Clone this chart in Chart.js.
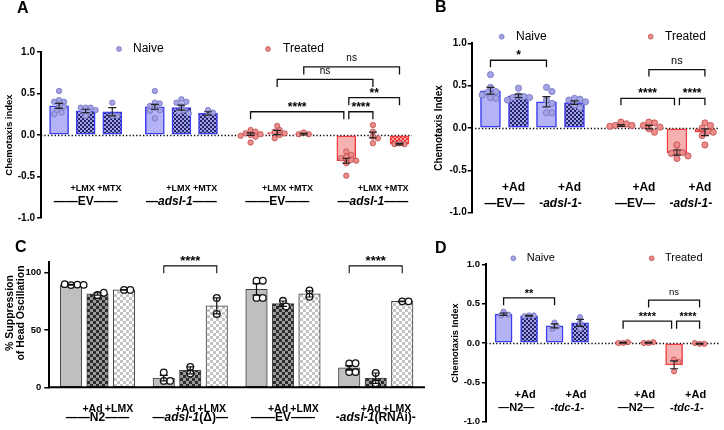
<!DOCTYPE html>
<html><head><meta charset="utf-8">
<script src="https://cdn.jsdelivr.net/npm/chart.js@4.4.1/dist/chart.umd.min.js"></script>
<style>
html,body{margin:0;padding:0;background:#fff;}
#wrap{position:relative;width:724px;height:430px;overflow:hidden;background:#fff;}
canvas{position:absolute;left:0;top:0;}
</style></head><body>
<div id="wrap">
<canvas id="cA" width="724" height="430"></canvas>
<canvas id="cB" width="724" height="430"></canvas>
<canvas id="cC" width="724" height="430"></canvas>
<canvas id="cD" width="724" height="430"></canvas>
</div>
<script>
// ================= DATA =================
// ---- Panel A ----
const aCond   = ['Naive','Naive','Naive','Naive','Naive','Naive','Treated','Treated','Treated','Treated','Treated','Treated'];
const aStrain = ['EV','EV','EV','adsl-1','adsl-1','adsl-1','EV','EV','EV','adsl-1','adsl-1','adsl-1'];
const aTreat  = ['','+LMX','+MTX','','+LMX','+MTX','','+LMX','+MTX','','+LMX','+MTX'];
const aMeans  = [0.35,0.29,0.28,0.34,0.33,0.26,0.01,0.03,0.01,-0.31,0.00,-0.11];
const aSem    = [0.03,0.02,0.05,0.03,0.03,0.02,0.015,0.025,0.01,0.03,0.035,0.01];
const aPoints = [
  [0.53,0.42,0.40,0.40,0.35,0.34,0.30,0.27,0.25],
  [0.33,0.33,0.33,0.30,0.28,0.28,0.23],
  [0.39,0.23,0.23],
  [0.53,0.39,0.38,0.35,0.33,0.30,0.29,0.20],
  [0.43,0.40,0.39,0.35,0.30,0.28,0.26],
  [0.30,0.27,0.24],
  [0.06,0.04,0.02,0.01,0.00,-0.01,-0.02,-0.09],
  [0.11,0.06,0.04,0.02,0.00,-0.04],
  [0.03,0.01,0.01],
  [-0.20,-0.24,-0.26,-0.28,-0.30,-0.31,-0.34,-0.49],
  [0.12,0.04,-0.02,-0.04,-0.10],
  [-0.10,-0.11,-0.11]
];
const aGroupLabels = ['——EV——','—_adsl-1_——','——EV——','—_adsl-1_——'];
const aSig   = [[6,9,0.28,'****'],[9,10,0.28,'****'],[9,11,0.45,'**'],[7,10,0.67,'ns'],[8,11,0.82,'ns']];
const aTicks = [-1,-0.5,0,0.5,1];

// ---- Panel B ----
const bCond   = ['Naive','Naive','Naive','Naive','Treated','Treated','Treated','Treated'];
const bStrain = ['EV','EV','adsl-1','adsl-1','EV','EV','adsl-1','adsl-1'];
const bTreat  = ['','+Ad','','+Ad','','+Ad','','+Ad'];
const bMeans  = [0.44,0.38,0.31,0.30,0.03,0.01,-0.29,-0.05];
const bSem    = [0.04,0.02,0.06,0.02,0.01,0.02,0.03,0.04];
const bPoints = [
  [0.63,0.48,0.43,0.42,0.39,0.36,0.35],
  [0.47,0.38,0.37,0.36,0.36,0.33],
  [0.48,0.43,0.33,0.29,0.18,0.18],
  [0.35,0.34,0.33,0.31,0.27,0.24],
  [0.07,0.05,0.03,0.03,0.02],
  [0.07,0.06,0.03,0.01,-0.01,-0.05],
  [-0.20,-0.28,-0.29,-0.30,-0.33,-0.36],
  [0.06,0.03,0.00,-0.04,-0.05,-0.09,-0.20]
];
const bGroupLabels = ['—EV—','-_adsl-1_-','—EV—','-_adsl-1_-'];
const bSig   = [[0,2,0.80,'*'],[4,6,0.35,'****'],[6,7,0.35,'****'],[5,7,0.69,'ns']];
const bTicks = [-1,-0.5,0,0.5,1];

// ---- Panel C ----
const cStrain = ['N2','N2','N2','adsl-1(Δ)','adsl-1(Δ)','adsl-1(Δ)','EV','EV','EV','adsl-1(RNAi)','adsl-1(RNAi)','adsl-1(RNAi)'];
const cTreat  = ['','+Ad','+LMX','','+Ad','+LMX','','+Ad','+LMX','','+Ad','+LMX'];
const cMeans  = [89.5,81.5,85,8,14.8,71,85.5,73,81.5,17,8,75];
const cSem    = [0.4,1,0.3,2.4,3,7,5,2.3,2.7,2,4.5,0.3];
const cPoints = [
  [89.2,89.6,90,89.4],[80.5,82.5],[85,85],
  [13,5.6,5.6],[17.8,12],[78,64],
  [93,93,78,78],[75.5,70.5],[84.5,79],
  [20.8,21,13.3,13.3],[12.5,3.5],[75,75]
];
const cGroupLabels = ['——N2——','—_adsl-1_(Δ)—','——EV——','-_adsl-1_(RNAi)-'];
const cSig   = [[3,5,106,'****'],[9,11,106,'****']];
const cTicks = [0,50,100];
const cTitle = ['% Suppression','of Head Oscillation'];

// ---- Panel D ----
const dCond   = ['Naive','Naive','Naive','Naive','Treated','Treated','Treated','Treated'];
const dStrain = ['N2','N2','tdc-1','tdc-1','N2','N2','tdc-1','tdc-1'];
const dTreat  = ['','+Ad','','+Ad','','+Ad','','+Ad'];
const dMeans  = [0.366,0.345,0.217,0.255,0.003,0.003,-0.277,-0.01];
const dSem    = [0.015,0.005,0.025,0.045,0.005,0.005,0.05,0.005];
const dPoints = [
  [0.40,0.36,0.35],[0.35,0.35,0.34],[0.26,0.21,0.18],[0.33,0.26,0.18],
  [0.00,0.01,0.00],[0.00,0.01,0.00],[-0.21,-0.24,-0.36],[-0.01,-0.01,0.00]
];
const dGroupLabels = ['—N2—','-_tdc-1_-','—N2—','-_tdc-1_-'];
const dSig   = [[0,2,0.574,'**'],[4,6,0.277,'****'],[6,7,0.277,'****'],[5,7,0.545,'ns']];
const dTicks = [-1,-0.5,0,0.5,1];

const legendNames = ['Naive','Treated'];

// ================= STYLE / RENDER =================
const FONT = "'Liberation Sans', Arial, Helvetica, sans-serif";
const COL = {
  naiveFill:'#b3b3f6', naiveBorder:'#3d3df2', naiveChk:['#23236b','#a3a3e3'],
  treatFill:'#f7b1b1', treatBorder:'#ec4040', treatChk:['#ee3434','#f7a3a3'],
  naivePt:'#a3a3e6', naivePtS:'#7272c2', treatPt:'#ee8c8c', treatPtS:'#bb4a4a'
};

function checker(ctx, c1, c2, s) {
  const cv = document.createElement('canvas'); cv.width = cv.height = 2*s;
  const g = cv.getContext('2d');
  g.fillStyle = c2; g.fillRect(0,0,2*s,2*s);
  g.fillStyle = c1; g.fillRect(0,0,s,s); g.fillRect(s,s,s,s);
  return ctx.createPattern(cv,'repeat');
}

function drawRuns(ctx, str, cx, cy, size) {
  const parts = str.split('_');
  const fonts = parts.map((p,k) => (k%2 ? 'italic ' : '') + 'bold ' + size + 'px ' + FONT);
  let w = 0;
  const ws = parts.map((p,k) => { ctx.font = fonts[k]; const m = ctx.measureText(p).width; w += m; return m; });
  let xx = cx - w/2;
  ctx.textAlign = 'left'; ctx.textBaseline = 'middle'; ctx.fillStyle = '#000';
  parts.forEach((p,k) => { ctx.font = fonts[k]; ctx.fillText(p, xx, cy); xx += ws[k]; });
}

function makeDeco(P, pos, runs) {
  return {
    id: 'deco' + P.id,
    beforeDatasetsDraw(chart) {
      const {ctx, chartArea: ca, scales: {y}} = chart;
      if (!P.dottedZero) return;
      const y0 = Math.round(y.getPixelForValue(0)) + 0.5;
      ctx.save();
      ctx.strokeStyle = '#000'; ctx.lineWidth = 1.3; ctx.setLineDash([1.3, 2.1]);
      ctx.beginPath(); ctx.moveTo(ca.left, y0); ctx.lineTo(ca.right, y0); ctx.stroke();
      ctx.restore();
    },
    afterDatasetsDraw(chart) {
      const {ctx, chartArea: ca, scales: {x, y}} = chart;
      const X = i => x.getPixelForValue(pos[i]);
      ctx.save();
      if (P.solidBase) {
        const y0 = y.getPixelForValue(0);
        ctx.strokeStyle = '#000'; ctx.lineWidth = 2;
        ctx.beginPath(); ctx.moveTo(ca.left - 1, y0); ctx.lineTo(ca.right, y0); ctx.stroke();
      }
      // error bars (mean ± SEM)
      ctx.strokeStyle = P.errColor; ctx.lineWidth = 1.2;
      P.means.forEach((m,i) => {
        const px = X(i), t = y.getPixelForValue(m + P.sem[i]), b = y.getPixelForValue(m - P.sem[i]);
        ctx.beginPath();
        ctx.moveTo(px, t); ctx.lineTo(px, b);
        ctx.moveTo(px - P.cap, t); ctx.lineTo(px + P.cap, t);
        ctx.moveTo(px - P.cap, b); ctx.lineTo(px + P.cap, b);
        ctx.stroke();
      });
      // significance brackets
      P.sig.forEach(cur => {
        const [a,b,lvl,txt] = cur;
        let xa = X(a), xb = X(b);
        if (P.sig.some(s => s !== cur && s[1] === a)) xa += 2.5;
        if (P.sig.some(s => s !== cur && s[0] === b)) xb -= 2.5;
        const yy = y.getPixelForValue(lvl);
        ctx.strokeStyle = '#111'; ctx.lineWidth = P.sigLW;
        ctx.beginPath(); ctx.moveTo(xa, yy + P.drop); ctx.lineTo(xa, yy); ctx.lineTo(xb, yy); ctx.lineTo(xb, yy + P.drop); ctx.stroke();
        ctx.fillStyle = '#000'; ctx.textAlign = 'center'; ctx.textBaseline = 'alphabetic';
        if (txt === 'ns') { ctx.font = P.nsSize + 'px ' + FONT; ctx.fillText(txt, (xa+xb)/2, yy - 5.5); }
        else { ctx.font = 'bold ' + P.starSize + 'px ' + FONT; ctx.fillText(txt, (xa+xb)/2, yy + P.starDy); }
      });
      // treatment labels under bars
      P.treat.forEach((t,i) => { if (t) drawRuns(ctx, t, X(i) + P.treatNudge, y.getPixelForValue(P.treatY), P.treatSize); });
      // group labels
      runs.forEach((r,k) => drawRuns(ctx, P.groupLabels[k], (X(r[0]) + X(r[1]))/2, y.getPixelForValue(P.groupY), P.groupSize));
      // legend
      if (P.legend) P.legend.forEach((L,k) => {
        ctx.beginPath(); ctx.arc(L.dot[0], L.dot[1], 2.4, 0, Math.PI*2);
        ctx.fillStyle = k ? COL.treatPt : COL.naivePt; ctx.fill();
        ctx.strokeStyle = k ? COL.treatPtS : COL.naivePtS; ctx.lineWidth = 0.8; ctx.stroke();
        ctx.fillStyle = '#000'; ctx.font = P.legendSize + 'px ' + FONT; ctx.textAlign = 'left'; ctx.textBaseline = 'middle';
        ctx.fillText(legendNames[k], L.tx, L.dot[1]);
      });
      // custom multi-line axis title
      if (P.customTitle) {
        const T = P.customTitle;
        ctx.save(); ctx.translate(T.cx, T.cy); ctx.rotate(-Math.PI/2);
        ctx.fillStyle = '#000'; ctx.font = 'bold ' + T.size + 'px ' + FONT; ctx.textAlign = 'center'; ctx.textBaseline = 'middle';
        T.lines.forEach((ln,k) => ctx.fillText(ln, 0, (k - (T.lines.length-1)/2) * T.lh));
        ctx.restore();
      }
      // panel letter
      ctx.fillStyle = '#000'; ctx.font = 'bold 16px ' + FONT; ctx.textAlign = 'left'; ctx.textBaseline = 'alphabetic';
      ctx.fillText(P.letter[0], P.letter[1], P.letter[2]);
      ctx.restore();
    }
  };
}

function buildPanel(P) {
  const canvas = document.getElementById(P.id);
  const ctx = canvas.getContext('2d');
  const n = P.means.length;
  const cond = i => (P.cond ? P.cond[i] : '');
  const runKey = i => cond(i) + '|' + P.strain[i];
  const runs = [];
  for (let i = 0; i < n; i++) {
    if (i === 0 || runKey(i) !== runKey(i-1)) runs.push([i,i]); else runs[runs.length-1][1] = i;
  }
  const gKey = i => (P.gapBy === 'cond' ? cond(i) : runKey(i));
  const pos = []; let g = -1;
  for (let i = 0; i < n; i++) { if (i === 0 || gKey(i) !== gKey(i-1)) g++; pos.push(i + g * P.gap); }

  const fills = [], borders = [];
  for (let i = 0; i < n; i++) { const s = P.barStyle(i, ctx); fills.push(s.fill); borders.push(s.border); }

  const chart = new Chart(ctx, {
    type: 'bar',
    data: { datasets: [
      { type:'bar', order:1, data: pos.map((p,i) => ({x:p, y:P.means[i]})),
        backgroundColor: fills, borderColor: borders, borderWidth: P.barBW, borderSkipped: false,
        barThickness: P.barW, grouped: false },
      { type:'scatter', order:0, data: [], pointRadius: P.pointR, pointBorderWidth: P.pointBW,
        pointBackgroundColor: [], pointBorderColor: [] }
    ]},
    options: {
      responsive:false, animation:false, devicePixelRatio:1, events: [],
      layout: { padding: { left: P.area.left - P.yW, right: 724 - P.area.right, top: P.area.top, bottom: 430 - P.area.bottom } },
      plugins: { legend:{display:false}, tooltip:{enabled:false} },
      scales: {
        x: { type:'linear', min:P.xMin, max:P.xMax, display:false, offset:false, grid:{offset:false} },
        y: { type:'linear', min:P.yMin, max:P.yMax,
             afterFit: s => { s.width = P.yW; },
             afterBuildTicks: s => { s.ticks = P.ticks.map(v => ({value:v})); },
             ticks: { autoSkip:false, color:'#000', padding:P.tickPad,
                      font:{family:FONT, size:P.tickSize, weight:'bold'}, callback: P.fmt },
             grid: { display:true, drawOnChartArea:false, drawTicks:true, tickLength:P.tickLen, color:'#000', lineWidth:1.5 },
             border: { display:true, color:'#000', width:2 },
             title: P.title ? { display:true, text:P.title, color:'#000', padding:{top:0,bottom:0},
                                font:{family:FONT, size:P.titleSize, weight:'bold'} } : { display:false }
        }
      }
    },
    plugins: [makeDeco(P, pos, runs)]
  });

  // beeswarm placement of replicate points (deterministic, via the chart scales)
  const xs = chart.scales.x, ys = chart.scales.y;
  const pts = [], pf = [], ps = [];
  const r = P.pointR + P.pointBW/2;
  P.points.forEach((vals,i) => {
    const cx = xs.getPixelForValue(pos[i]);
    const placed = [];
    vals.forEach(v => {
      const py = ys.getPixelForValue(v);
      let px = cx;
      for (let k = 0; k < 40; k++) {
        const off = k === 0 ? 0 : Math.ceil(k/2) * r * 0.8 * (k % 2 ? 1 : -1);
        px = cx + off;
        if (placed.every(q => Math.hypot(q[0]-px, q[1]-py) >= 1.5*r)) break;
      }
      placed.push([px,py]);
      pts.push({x: xs.getValueForPixel(px), y: v});
      pf.push(P.pointFill(i)); ps.push(P.pointStroke(i));
    });
  });
  const ds = chart.data.datasets[1];
  ds.data = pts; ds.pointBackgroundColor = pf; ds.pointBorderColor = ps;
  chart.update('none');
}

// style helpers for the chemotaxis panels
function chemoStyle(condArr, treatArr) {
  return (i, ctx) => {
    const naive = condArr[i] === 'Naive';
    const chk = naive ? COL.naiveChk : COL.treatChk;
    return {
      fill: treatArr[i] ? checker(ctx, chk[0], chk[1], 2) : (naive ? COL.naiveFill : COL.treatFill),
      border: naive ? COL.naiveBorder : COL.treatBorder
    };
  };
}
const fmt1 = v => Number(v).toFixed(1);

// ---- Panel A ----
buildPanel({
  id:'cA', cond:aCond, strain:aStrain, treat:aTreat, means:aMeans, sem:aSem, points:aPoints,
  groupLabels:aGroupLabels, sig:aSig, ticks:aTicks, gapBy:'strain', gap:0.6,
  area:{left:41, right:412, top:52, bottom:218}, yW:37, xMin:-0.68, xMax:13.27, yMin:-1, yMax:1,
  fmt:fmt1, tickSize:10, tickPad:2, tickLen:4, title:'Chemotaxis index', titleSize:9.5,
  barStyle: chemoStyle(aCond, aTreat), barBW:1.5, barW:19,
  pointR:2.7, pointBW:0.8,
  pointFill: i => aCond[i] === 'Naive' ? COL.naivePt : COL.treatPt,
  pointStroke: i => aCond[i] === 'Naive' ? COL.naivePtS : COL.treatPtS,
  errColor:'#222', cap:4, dottedZero:true,
  sigLW:1.3, drop:7.5, starSize:12, starDy:-1, nsSize:10,
  treatY:-0.64, treatSize:9, treatNudge:-3, groupY:-0.80, groupSize:12,
  legend:[{dot:[119,49], tx:133},{dot:[268,49], tx:283}], legendSize:12,
  letter:['A',17,13]
});

// ---- Panel B ----
buildPanel({
  id:'cB', cond:bCond, strain:bStrain, treat:bTreat, means:bMeans, sem:bSem, points:bPoints,
  groupLabels:bGroupLabels, sig:bSig, ticks:bTicks, gapBy:'cond', gap:0.66,
  area:{left:471.7, right:722, top:43.3, bottom:212.7}, yW:38.2, xMin:-0.671, xMax:8.17, yMin:-1, yMax:1,
  fmt:fmt1, tickSize:10, tickPad:1, tickLen:4, title:'Chemotaxis Index', titleSize:10,
  barStyle: chemoStyle(bCond, bTreat), barBW:1.5, barW:20,
  pointR:3.1, pointBW:0.8,
  pointFill: i => bCond[i] === 'Naive' ? COL.naivePt : COL.treatPt,
  pointStroke: i => bCond[i] === 'Naive' ? COL.naivePtS : COL.treatPtS,
  errColor:'#222', cap:4, dottedZero:true,
  sigLW:1.3, drop:7, starSize:12, starDy:-1, nsSize:11,
  treatY:-0.71, treatSize:12, treatNudge:-5, groupY:-0.89, groupSize:12,
  legend:[{dot:[501.7,36.7], tx:516},{dot:[650.7,36.7], tx:665}], legendSize:12,
  letter:['B',435,12]
});

// ---- Panel C ----
buildPanel({
  id:'cC', cond:null, strain:cStrain, treat:cTreat, means:cMeans, sem:cSem, points:cPoints,
  groupLabels:cGroupLabels, sig:cSig, ticks:cTicks, gapBy:'strain', gap:0.5,
  area:{left:49.3, right:425, top:261.7, bottom:387.3}, yW:44.8, xMin:-0.82, xMax:13.36, yMin:0, yMax:109.6,
  fmt: v => String(v), tickSize:9.5, tickPad:3, tickLen:5, title:null,
  barStyle: (i, ctx) => ({
    fill: cTreat[i] === '+Ad' ? checker(ctx,'#2d2d2d','#9a9a9a',3) : (cTreat[i] === '+LMX' ? checker(ctx,'#c4c4c4','#ffffff',3) : '#bfbfbf'),
    border: '#404040'
  }),
  barBW:1, barW:21.5,
  pointR:3.3, pointBW:1.3, pointFill: () => '#ffffff', pointStroke: () => '#111111',
  errColor:'#111', cap:4, dottedZero:false, solidBase:true,
  sigLW:1.1, drop:7.5, starSize:13, starDy:-1, nsSize:10,
  treatY:-18.9, treatSize:10.5, treatNudge:-5, groupY:-26.3, groupSize:12,
  legend:null,
  customTitle:{lines:cTitle, cx:15.5, cy:313, lh:11, size:10.5},
  letter:['C',15,252]
});

// ---- Panel D ----
buildPanel({
  id:'cD', cond:dCond, strain:dStrain, treat:dTreat, means:dMeans, sem:dSem, points:dPoints,
  groupLabels:dGroupLabels, sig:dSig, ticks:dTicks, gapBy:'cond', gap:0.69,
  area:{left:486, right:724, top:264.3, bottom:421.7}, yW:35.8, xMin:-0.69, xMax:8.46, yMin:-1, yMax:1,
  fmt:fmt1, tickSize:9.5, tickPad:2, tickLen:4, title:'Chemotaxis Index', titleSize:9.3,
  barStyle: chemoStyle(dCond, dTreat), barBW:1.5, barW:17,
  pointR:2.6, pointBW:0.8,
  pointFill: i => dCond[i] === 'Naive' ? COL.naivePt : COL.treatPt,
  pointStroke: i => dCond[i] === 'Naive' ? COL.naivePtS : COL.treatPtS,
  errColor:'#222', cap:4, dottedZero:true,
  sigLW:1.3, drop:7.5, starSize:11, starDy:-1, nsSize:9.5,
  treatY:-0.665, treatSize:11, treatNudge:-4, groupY:-0.826, groupSize:11,
  legend:[{dot:[513.3,258.3], tx:526.7},{dot:[651.7,258.3], tx:665}], legendSize:11,
  letter:['D',435,253]
});
</script>
</body></html>
